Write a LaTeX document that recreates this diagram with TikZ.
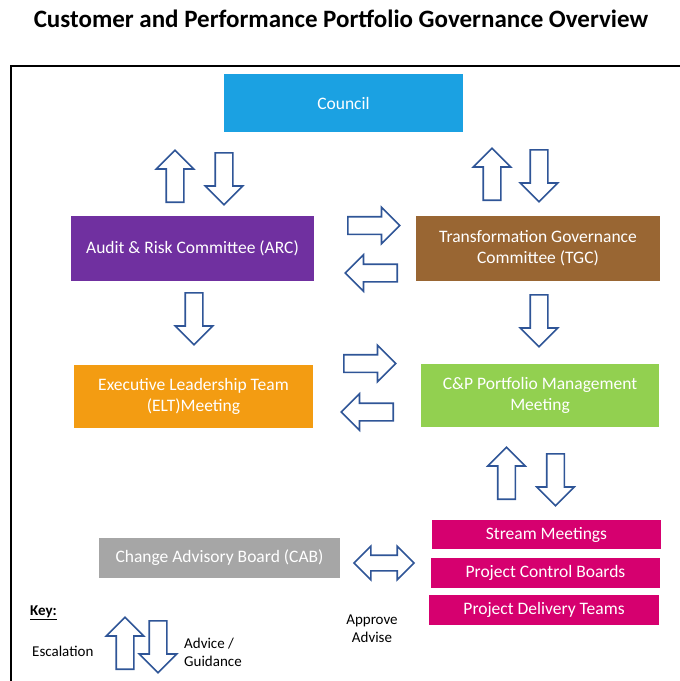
\documentclass[tikz,border=0pt]{standalone}
\usepackage{fontspec}
\setmainfont{Carlito}
\usetikzlibrary{shapes.arrows}
\definecolor{councilc}{HTML}{1BA1E2}
\definecolor{arcc}{HTML}{7030A0}
\definecolor{tgcc}{HTML}{996633}
\definecolor{eltc}{HTML}{F39C12}
\definecolor{cpc}{HTML}{92D050}
\definecolor{cabc}{HTML}{A6A6A6}
\definecolor{magc}{HTML}{D6006F}
\definecolor{arrc}{HTML}{2F5597}
\begin{document}
\begin{tikzpicture}[x=1pt,y=-1pt,
  box/.style={draw=none, inner sep=0pt, text=white, align=center,
    font=\fontsize{17.5}{21}\selectfont},
  blk/.style={single arrow, draw=arrc, fill=white, line width=1.6pt,
    inner sep=8pt, single arrow head extend=10pt, single arrow tip angle=90,
    minimum height=52pt, minimum width=0pt, anchor=tail},
  dbl/.style={double arrow, draw=arrc, fill=white, line width=1.6pt,
    inner sep=7pt, double arrow head extend=9pt, double arrow tip angle=90,
    minimum height=60pt, minimum width=0pt},
  up/.style={blk, shape border rotate=90},
  dn/.style={blk, shape border rotate=270},
  rt/.style={blk, shape border rotate=0, single arrow head extend=9.5pt},
  lt/.style={blk, shape border rotate=180, single arrow head extend=9.5pt},
  small/.style={font=\fontsize{15}{18}\selectfont, inner sep=0pt}]
\useasboundingbox (0,0) rectangle (680,681);
% frame
\draw[line width=2pt] (681,66) -- (10.5,66) -- (10.5,682);
% title
\node[font=\bfseries\fontsize{25}{30}\selectfont, inner sep=0pt] (title) at (341,19)
  {Customer and Performance Portfolio Governance Overview};
% boxes
\node[box, fill=councilc, minimum width=239pt, minimum height=58pt] (council) at (343.5,103) {Council};
\node[box, fill=arcc, minimum width=243pt, minimum height=65pt] (arc) at (192.5,248.5) {Audit \& Risk Committee (ARC)};
\node[box, fill=tgcc, minimum width=244pt, minimum height=65pt] (tgc) at (538,248.5) {Transformation Governance\\Committee (TGC)};
\node[box, fill=eltc, minimum width=239pt, minimum height=63pt] (elt) at (193.5,396.5) {Executive Leadership Team\\(ELT)Meeting};
\node[box, fill=cpc, minimum width=238pt, minimum height=63pt] (cp) at (540,395.5) {C\&P Portfolio Management\\Meeting};
\node[box, fill=cabc, minimum width=241pt, minimum height=40pt] (cab) at (219.5,558) {Change Advisory Board (CAB)};
\node[box, fill=magc, minimum width=229pt, minimum height=29pt] (stream) at (546.5,534.5) {Stream Meetings};
\node[box, fill=magc, minimum width=229pt, minimum height=30pt] (pcb) at (545.5,573) {Project Control Boards};
\node[box, fill=magc, minimum width=230pt, minimum height=30pt] (pdt) at (544,610) {Project Delivery Teams};
% block arrows (placed by their tails)
\node[up] (a1) at (175,203) {};
\node[dn] (a2) at (224,152) {};
\node[up] (a3) at (492,201) {};
\node[dn] (a4) at (539,149) {};
\node[rt] (a5) at (347,225.5) {};
\node[lt] (a6) at (398,273) {};
\node[dn] (a7) at (194,292) {};
\node[dn] (a8) at (539,294) {};
\node[rt] (a9) at (343,363.5) {};
\node[lt] (a10) at (394,412) {};
\node[up] (a11) at (506.5,500) {};
\node[dn] (a12) at (555.5,453) {};
\node[dbl] (a13) at (384,563) {};
\node[up] (k1) at (125,670) {};
\node[dn] (k2) at (158,620) {};
% key texts
\node[small, font=\bfseries\fontsize{15}{18}\selectfont, anchor=west] (key) at (30,613) {\underline{Key:}};
\node[small, anchor=west] (esc) at (32,651) {Escalation};
\node[small, anchor=west, align=left] (adv) at (184,652) {Advice /\\Guidance};
\node[small, align=center] (appr) at (372,628.5) {Approve\\Advise};
\end{tikzpicture}
\end{document}
